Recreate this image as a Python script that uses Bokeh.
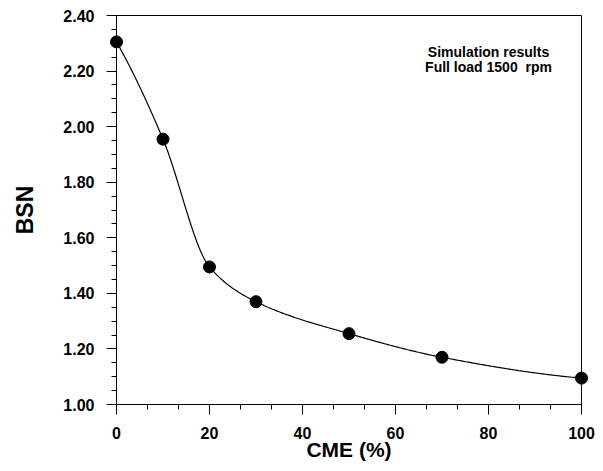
import numpy as np
from bokeh.plotting import figure
from bokeh.models import Range1d, FixedTicker, Label, NumeralTickFormatter
from bokeh.embed import file_html
from bokeh.resources import INLINE

# CME blend share (%) and simulated BSN
cme_pct = [0, 10, 20, 30, 50, 70, 100]
bsn = [2.305, 1.955, 1.495, 1.370, 1.255, 1.170, 1.095]

x_major = [0, 20, 40, 60, 80, 100]
y_major = [1.00, 1.20, 1.40, 1.60, 1.80, 2.00, 2.20, 2.40]

note_lines = ["Simulation results", "Full load 1500\u00a0 rpm"]
note_y = [2.27, 2.213]


def pchip_curve(xs, ys, n=400):
    """Shape-preserving cubic (Fritsch-Carlson) through the points."""
    xs = np.asarray(xs, float)
    ys = np.asarray(ys, float)
    h = np.diff(xs)
    d = np.diff(ys) / h
    k = len(xs)
    m = np.zeros(k)
    for i in range(1, k - 1):
        if d[i - 1] * d[i] <= 0:
            m[i] = 0.0
        else:
            w1 = 2 * h[i] + h[i - 1]
            w2 = h[i] + 2 * h[i - 1]
            m[i] = (w1 + w2) / (w1 / d[i - 1] + w2 / d[i])

    def end_slope(h0, h1, d0, d1):
        s = ((2 * h0 + h1) * d0 - h0 * d1) / (h0 + h1)
        if np.sign(s) != np.sign(d0):
            s = 0.0
        elif np.sign(d0) != np.sign(d1) and abs(s) > abs(3 * d0):
            s = 3 * d0
        return s

    m[0] = end_slope(h[0], h[1], d[0], d[1])
    m[-1] = end_slope(h[-1], h[-2], d[-1], d[-2])

    xx = np.linspace(xs[0], xs[-1], n)
    idx = np.clip(np.searchsorted(xs, xx) - 1, 0, k - 2)
    hh = h[idx]
    t = (xx - xs[idx]) / hh
    h00 = 2 * t**3 - 3 * t**2 + 1
    h10 = t**3 - 2 * t**2 + t
    h01 = -2 * t**3 + 3 * t**2
    h11 = t**3 - t**2
    yy = h00 * ys[idx] + h10 * hh * m[idx] + h01 * ys[idx + 1] + h11 * hh * m[idx + 1]
    return xx, yy


p = figure(width=603, height=471, output_backend="svg", toolbar_location=None,
           x_range=Range1d(0, 100), y_range=Range1d(1.0, 2.4),
           min_border_left=116, min_border_right=22, min_border_top=15, min_border_bottom=67)
p.xgrid.visible = False
p.ygrid.visible = False
p.outline_line_color = "black"
p.outline_line_width = 1
p.background_fill_color = "white"
p.border_fill_color = "white"

sx, sy = pchip_curve(cme_pct, bsn)
p.line(sx, sy, line_color="black", line_width=1.2)
p.scatter(cme_pct, bsn, size=12, fill_color="black", line_color="black", level="overlay")

font = "Liberation Sans"
for ax in (p.xaxis[0], p.yaxis[0]):
    ax.axis_line_color = "black"
    ax.major_tick_line_color = "black"
    ax.minor_tick_line_color = "black"
    ax.major_tick_in = 0
    ax.minor_tick_in = 0
    ax.major_tick_out = 10
    ax.minor_tick_out = 5
    ax.major_label_text_font = font
    ax.major_label_text_font_style = "bold"
    ax.major_label_text_font_size = "16px"
    ax.major_label_text_color = "black"
    ax.axis_label_text_font = font
    ax.axis_label_text_font_style = "bold"
    ax.axis_label_text_color = "black"

x_minor = [v for a in x_major[:-1] for v in (a + 20 / 3, a + 40 / 3)]
y_minor = [round(a + d, 2) for a in y_major[:-1] for d in (0.05, 0.10, 0.15)]
p.xaxis[0].ticker = FixedTicker(ticks=x_major, minor_ticks=x_minor)
p.yaxis[0].ticker = FixedTicker(ticks=y_major, minor_ticks=y_minor)
p.yaxis[0].formatter = NumeralTickFormatter(format="0.00")
p.xaxis[0].major_label_standoff = 12
p.yaxis[0].major_label_standoff = 12

p.xaxis[0].axis_label = "CME (%)"
p.xaxis[0].axis_label_text_font_size = "21px"
p.xaxis[0].axis_label_standoff = -4
p.yaxis[0].axis_label = "BSN"
p.yaxis[0].axis_label_text_font_size = "23px"
p.yaxis[0].axis_label_standoff = 22

for txt, yv in zip(note_lines, note_y):
    p.add_layout(Label(x=80, y=yv, text=txt, text_align="center", text_baseline="middle",
                       text_font=font, text_font_style="bold", text_font_size="14px", text_color="black"))

open("out.html", "w").write(file_html(p, INLINE))
